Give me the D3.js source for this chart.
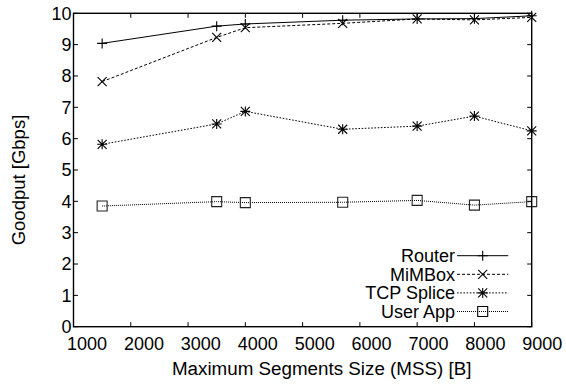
<!DOCTYPE html>
<html>
<head>
<meta charset="utf-8">
<script src="https://cdn.jsdelivr.net/npm/d3@7"></script>
<style>
  body { margin: 0; background: #fff; }
  text { font-family: "Liberation Sans", Arial, sans-serif; fill: #000; }
</style>
</head>
<body>
<div id="chart"></div>
<script>
const mss = [1500, 3500, 4000, 5700, 7000, 8000, 9000];
const router = [9.04, 9.59, 9.66, 9.78, 9.82, 9.83, 9.92];
const mimbox = [7.82, 9.23, 9.54, 9.68, 9.82, 9.79, 9.87];
const tcpSplice = [5.82, 6.47, 6.87, 6.30, 6.40, 6.72, 6.25];
const userApp = [3.85, 3.99, 3.96, 3.97, 4.03, 3.88, 3.99];
const seriesNames = ["Router", "MiMBox", "TCP Splice", "User App"];
const xTicks = [1000, 2000, 3000, 4000, 5000, 6000, 7000, 8000, 9000];
const yTicks = [0, 1, 2, 3, 4, 5, 6, 7, 8, 9, 10];

const width = 566, height = 386;
const plot = { left: 73.5, right: 531.7, top: 13.3, bottom: 326.7 };

const x = d3.scaleLinear().domain([1000, 9000]).range([plot.left, plot.right]);
const y = d3.scaleLinear().domain([0, 10]).range([plot.bottom, plot.top]);
// tick labels sit a bit right of their ticks in the original
const xLab = d3.scaleLinear().domain([1000, 9000]).range([87, 542.3]);

const svg = d3.select("#chart").append("svg")
  .attr("width", width)
  .attr("height", height);

// line styles per series
const styles = [
  { dash: null, marker: "plus", values: router },
  { dash: "3,2", marker: "cross", values: mimbox },
  { dash: "1.6,1.6", marker: "star", values: tcpSplice },
  { dash: "1,1", marker: "box", values: userApp }
];

function markerPath(type, cx, cy) {
  const p = d3.path();
  const r = 5;
  if (type === "plus" || type === "star") {
    p.moveTo(cx - r, cy); p.lineTo(cx + r, cy);
    p.moveTo(cx, cy - r); p.lineTo(cx, cy + r);
  }
  if (type === "cross" || type === "star") {
    const s = 4.5;
    p.moveTo(cx - s, cy - s); p.lineTo(cx + s, cy + s);
    p.moveTo(cx - s, cy + s); p.lineTo(cx + s, cy - s);
  }
  if (type === "box") {
    p.rect(cx - 5, cy - 5, 10, 10);
  }
  return p.toString();
}

const line = d3.line().x(d => x(d[0])).y(d => y(d[1]));

// series
styles.forEach((s, i) => {
  const pts = mss.map((m, j) => [m, s.values[j]]);
  svg.append("path")
    .attr("d", line(pts))
    .attr("fill", "none")
    .attr("stroke", "#000")
    .attr("stroke-width", 1)
    .attr("stroke-dasharray", s.dash);
  svg.selectAll(null)
    .data(pts)
    .enter()
    .append("path")
    .attr("d", d => markerPath(s.marker, x(d[0]), y(d[1])))
    .attr("fill", "none")
    .attr("stroke", s.marker === "box" ? "#222" : "#000")
    .attr("stroke-width", 1.1);
});

// ticks on all four sides, pointing inward
const tl = 4.5;
const ticks = svg.append("g").attr("stroke", "#000").attr("stroke-width", 1);
xTicks.forEach(t => {
  ticks.append("line").attr("x1", x(t)).attr("x2", x(t)).attr("y1", plot.bottom).attr("y2", plot.bottom - tl);
  ticks.append("line").attr("x1", x(t)).attr("x2", x(t)).attr("y1", plot.top).attr("y2", plot.top + tl);
});
yTicks.forEach(t => {
  ticks.append("line").attr("x1", plot.left).attr("x2", plot.left + tl).attr("y1", y(t)).attr("y2", y(t));
  ticks.append("line").attr("x1", plot.right).attr("x2", plot.right - tl).attr("y1", y(t)).attr("y2", y(t));
});

// frame
svg.append("rect")
  .attr("x", plot.left).attr("y", plot.top)
  .attr("width", plot.right - plot.left)
  .attr("height", plot.bottom - plot.top)
  .attr("fill", "none")
  .attr("stroke", "#000")
  .attr("stroke-width", 1.4);

// tick labels
svg.selectAll(".xl")
  .data(xTicks)
  .enter().append("text")
  .attr("x", d => xLab(d))
  .attr("y", 350)
  .attr("text-anchor", "middle")
  .attr("font-size", "18px")
  .text(d => d);

svg.selectAll(".yl")
  .data(yTicks)
  .enter().append("text")
  .attr("x", 71.5)
  .attr("y", d => y(d) + 6.3)
  .attr("text-anchor", "end")
  .attr("font-size", "18px")
  .text(d => d);

// axis titles
svg.append("text")
  .attr("x", 321.7).attr("y", 375)
  .attr("text-anchor", "middle")
  .attr("font-size", "18.8px")
  .text("Maximum Segments Size (MSS) [B]");

svg.append("text")
  .attr("transform", "translate(25,180) rotate(-90)")
  .attr("text-anchor", "middle")
  .attr("font-size", "18.5px")
  .text("Goodput [Gbps]");

// legend
const legend = svg.append("g");
seriesNames.forEach((name, i) => {
  const cy = 255.7 + i * 18.6;
  legend.append("text")
    .attr("x", 455).attr("y", cy + 6.4)
    .attr("text-anchor", "end")
    .attr("font-size", "18px")
    .text(name);
  legend.append("line")
    .attr("x1", 457).attr("x2", 508.3)
    .attr("y1", cy).attr("y2", cy)
    .attr("stroke", "#000")
    .attr("stroke-width", 1)
    .attr("stroke-dasharray", styles[i].dash);
  legend.append("path")
    .attr("d", markerPath(styles[i].marker, 482.7, cy))
    .attr("fill", "none")
    .attr("stroke", "#000")
    .attr("stroke-width", 1.1);
});
</script>
</body>
</html>
